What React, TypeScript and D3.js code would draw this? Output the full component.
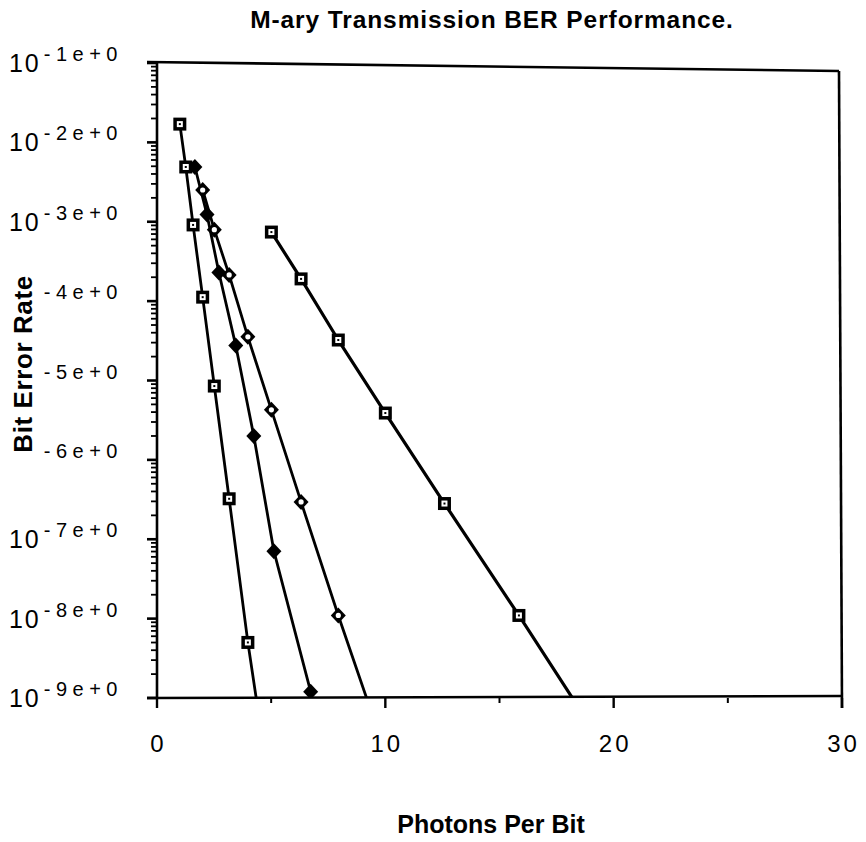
import React, { useEffect, useRef } from "react";
import * as d3 from "d3";

// ---- Data (x = photons per bit, y = log10 of bit error rate) ----
const seriesAX = [1.0, 1.26, 1.58, 2.0, 2.51, 3.16, 3.98, 5.01];
const seriesALog = [-1.77, -2.31, -3.04, -3.95, -5.07, -6.49, -8.3, -10.28];

const seriesBX = [1.66, 2.19, 2.71, 3.45, 4.24, 5.12, 6.73];
const seriesBLog = [-2.31, -2.91, -3.64, -4.56, -5.7, -7.15, -8.92];

const seriesCX = [2.0, 2.51, 3.16, 3.98, 5.01, 6.31, 7.94, 10.0];
const seriesCLog = [-2.6, -3.1, -3.67, -4.45, -5.37, -6.53, -7.96, -9.69];

const seriesDX = [5.01, 6.31, 7.94, 10.0, 12.59, 15.85, 19.95];
const seriesDLog = [-3.13, -3.72, -4.49, -5.41, -6.55, -7.96, -9.78];

const xTicks = [0, 10, 20, 30];
const xMinorTicks = [5, 15, 25];
const xTickLabels = ["0", "10", "20", "30"];
const yDecades = [-1, -2, -3, -4, -5, -6, -7, -8, -9];
const yTickLabels = ["-1e+0", "-2e+0", "-3e+0", "-4e+0", "-5e+0", "-6e+0", "-7e+0", "-8e+0", "-9e+0"];

const titleText = "M-ary Transmission BER Performance.";
const xAxisTitle = "Photons Per Bit";
const yAxisTitle = "Bit Error Rate";

const FONT = "'Liberation Sans', Arial, Helvetica, sans-serif";

type Marker = "squareDot" | "diamondFilled" | "diamondOpen";

export default function App() {
  const ref = useRef<SVGSVGElement>(null);

  useEffect(() => {
    const svg = d3.select(ref.current);
    svg.selectAll("*").remove();

    const left = 157, right = 842, top = 63, bottom = 698;
    const x = d3.scaleLinear().domain([0, 30]).range([left, right]);
    const y = d3.scaleLog().domain([1e-9, 1e-1]).range([bottom, top]);

    svg.append("rect").attr("width", 866).attr("height", 842).attr("fill", "#fff");

    const defs = svg.append("defs");
    defs.append("clipPath").attr("id", "plotClip")
      .append("rect").attr("x", left).attr("y", top - 10)
      .attr("width", right - left).attr("height", bottom - top + 10);

    // Title
    svg.append("text").attr("x", 492).attr("y", 28)
      .attr("text-anchor", "middle").attr("font-family", FONT)
      .attr("font-weight", "bold").attr("font-size", 24.5)
      .attr("letter-spacing", 0.9)
      .text(titleText);

    // Frame
    const g = svg.append("g");
    const axisW = 2.6;
    g.append("line").attr("x1", left).attr("x2", left).attr("y1", y(1e-1)).attr("y2", bottom + 1)
      .attr("stroke", "#000").attr("stroke-width", axisW);
    g.append("line").attr("x1", left - 10).attr("x2", right).attr("y1", bottom).attr("y2", bottom - 2)
      .attr("stroke", "#000").attr("stroke-width", axisW);
    g.append("line").attr("x1", left - 10).attr("x2", right - 3).attr("y1", y(1e-1) - 1).attr("y2", y(1e-1) + 8)
      .attr("stroke", "#000").attr("stroke-width", axisW);
    g.append("line").attr("x1", right - 3).attr("x2", right).attr("y1", y(1e-1) + 8).attr("y2", bottom + 10)
      .attr("stroke", "#000").attr("stroke-width", axisW);

    // Y ticks (major + minor)
    yDecades.forEach((d) => {
      const v = Math.pow(10, d);
      g.append("line").attr("x1", left - 10).attr("x2", left).attr("y1", y(v)).attr("y2", y(v))
        .attr("stroke", "#000").attr("stroke-width", 2.6);
      if (d > -9) {
        for (let k = 2; k <= 9; k++) {
          const mv = k * Math.pow(10, d - 1);
          g.append("line").attr("x1", left - 6).attr("x2", left).attr("y1", y(mv)).attr("y2", y(mv))
            .attr("stroke", "#000").attr("stroke-width", 1.8);
        }
      }
    });

    // X ticks
    xTicks.forEach((t) => {
      g.append("line").attr("x1", x(t)).attr("x2", x(t)).attr("y1", bottom).attr("y2", bottom + 10)
        .attr("stroke", "#000").attr("stroke-width", 2.4);
    });
    xMinorTicks.forEach((t) => {
      g.append("line").attr("x1", x(t)).attr("x2", x(t)).attr("y1", bottom).attr("y2", bottom + 5)
        .attr("stroke", "#000").attr("stroke-width", 2);
    });

    // X tick labels
    xTicks.forEach((t, i) => {
      svg.append("text").attr("x", x(t) + 1.5).attr("y", 752)
        .attr("text-anchor", "middle").attr("font-family", FONT).attr("font-size", 24)
        .attr("letter-spacing", 3).text(xTickLabels[i]);
    });

    // Y tick labels: "10" + superscript exponent
    yDecades.forEach((d, i) => {
      const ty = y(Math.pow(10, d));
      const t = svg.append("text").attr("x", 123).attr("y", ty + 9).attr("text-anchor", "end")
        .attr("font-family", FONT);
      t.append("tspan").attr("font-size", 25).attr("letter-spacing", 2).text("10");
      t.append("tspan").attr("dy", -11).attr("dx", 3).attr("font-size", 20).attr("letter-spacing", 5.5)
        .text(yTickLabels[i]);
    });

    // Y axis title with white backing
    const ycx = 32, ycy = 364;
    svg.append("rect").attr("x", 2).attr("y", ycy - 112).attr("width", 39).attr("height", 224).attr("fill", "#fff");
    svg.append("text").attr("transform", `translate(${ycx},${ycy}) rotate(-90)`)
      .attr("text-anchor", "middle").attr("font-family", FONT).attr("font-weight", "bold")
      .attr("font-size", 26).attr("letter-spacing", 0.6).text(yAxisTitle);

    // X axis title
    svg.append("text").attr("x", 491).attr("y", 833).attr("text-anchor", "middle")
      .attr("font-family", FONT).attr("font-weight", "bold").attr("font-size", 25)
      .text(xAxisTitle);

    // Series
    const series: { xs: number[]; ls: number[]; marker: Marker; lw: number }[] = [
      { xs: seriesDX, ls: seriesDLog, marker: "squareDot", lw: 3.2 },
      { xs: seriesCX, ls: seriesCLog, marker: "diamondOpen", lw: 2.8 },
      { xs: seriesBX, ls: seriesBLog, marker: "diamondFilled", lw: 2.8 },
      { xs: seriesAX, ls: seriesALog, marker: "squareDot", lw: 2.8 },
    ];

    const line = d3.line<[number, number]>()
      .x((d) => x(d[0]))
      .y((d) => y(Math.pow(10, d[1])));

    const plot = svg.append("g").attr("clip-path", "url(#plotClip)");

    series.forEach((s) => {
      const pts: [number, number][] = s.xs.map((v, i) => [v, s.ls[i]]);
      plot.append("path").attr("d", line(pts) as string).attr("fill", "none")
        .attr("stroke", "#000").attr("stroke-width", s.lw).attr("stroke-linejoin", "round");
    });

    series.forEach((s) => {
      s.xs.forEach((v, i) => {
        const px = x(v), py = y(Math.pow(10, s.ls[i]));
        const mg = plot.append("g").attr("transform", `translate(${px},${py})`);
        if (s.marker === "squareDot") {
          mg.append("rect").attr("x", -6.5).attr("y", -6.5).attr("width", 13).attr("height", 13).attr("fill", "#000");
          mg.append("rect").attr("x", -3).attr("y", -3).attr("width", 6).attr("height", 6).attr("fill", "#fff");
          mg.append("rect").attr("x", -1).attr("y", -1).attr("width", 2).attr("height", 2).attr("fill", "#000");
        } else if (s.marker === "diamondFilled") {
          mg.append("path").attr("d", "M0,-8 L7.5,0 L0,8 L-7.5,0 Z").attr("fill", "#000");
        } else {
          mg.append("path").attr("d", "M0,-8 L7.5,0 L0,8 L-7.5,0 Z").attr("fill", "#000");
          mg.append("circle").attr("r", 2.6).attr("fill", "#fff");
        }
      });
    });
  }, []);

  return (
    <svg
      ref={ref}
      width={866}
      height={842}
      style={{ position: "absolute", left: 0, top: 0, display: "block" }}
    />
  );
}
